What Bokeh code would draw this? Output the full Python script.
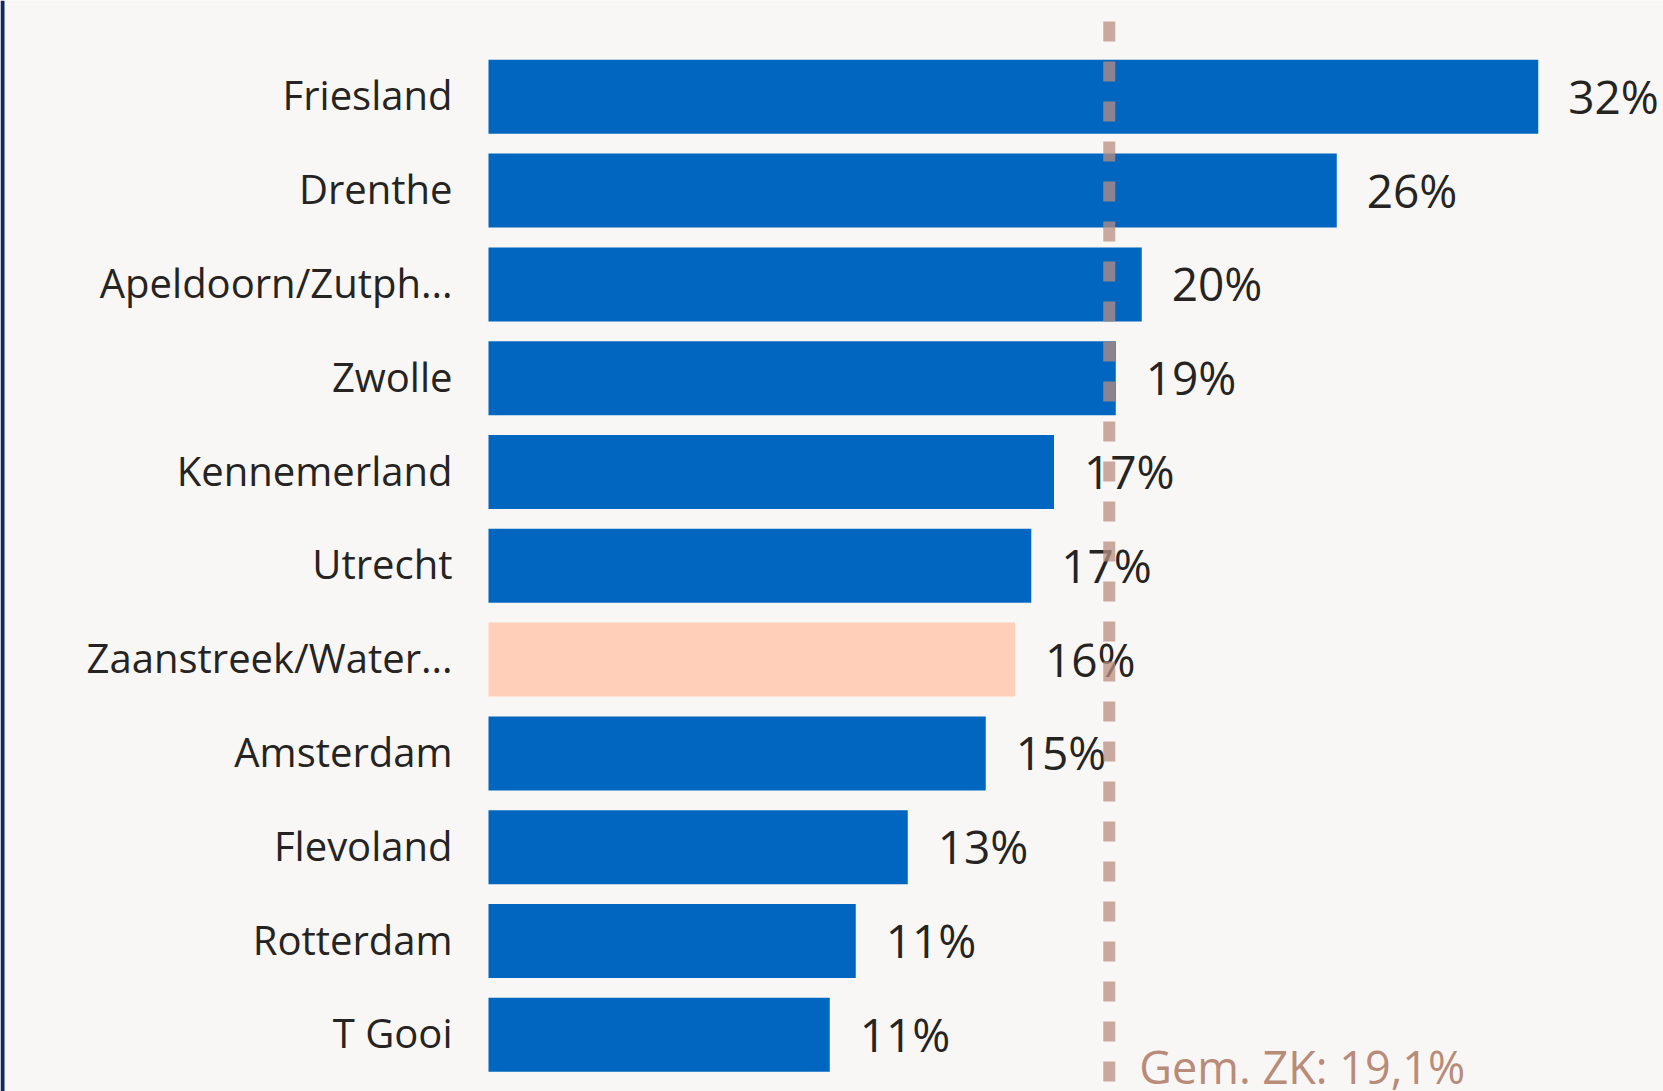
from bokeh.plotting import figure
from bokeh.models import Range1d, ColumnDataSource
from bokeh.core.properties import value
from bokeh.embed import file_html
from bokeh.resources import INLINE

# ---- data ----
categories = ["Friesland", "Drenthe", "Apeldoorn/Zutph...", "Zwolle", "Kennemerland",
              "Utrecht", "Zaanstreek/Water...", "Amsterdam", "Flevoland", "Rotterdam", "T Gooi"]
values = [32.3, 26.1, 20.1, 19.3, 17.4, 16.7, 16.2, 15.3, 12.9, 11.3, 10.5]
value_labels = ["32%", "26%", "20%", "19%", "17%", "17%", "16%", "15%", "13%", "11%", "11%"]
highlight = "Zaanstreek/Water..."
average = 19.1
average_label = "Gem. ZK: 19,1%"

# ---- styling ----
BG = "#f8f7f5"
BLUE = "#0066bf"
PEACH = "#ffcfba"
NAVY = "#0b2b5c"
TEXT = "#252423"
AVG = "#b98f80"
AVG_TEXT = "#b98b79"
FONT = value("Open Sans")

W, H = 1663, 1091
PX_X = 32.5      # pixels per percent
PX_ROW = 93.8    # pixels per category row
n = len(categories)

x_start = -488 / PX_X
x_end = x_start + W / PX_X
y_end = (n - 1) + 96.3 / PX_ROW
y_start = y_end - H / PX_ROW

pos = [n - 1 - i for i in range(n)]
colors = [PEACH if c == highlight else BLUE for c in categories]
src = ColumnDataSource(dict(cat=categories, value=values, label=value_labels,
                            pos=pos, color=colors))

p = figure(width=W, height=H, x_range=Range1d(x_start, x_end), y_range=Range1d(y_start, y_end),
           output_backend="svg", toolbar_location=None, min_border=0,
           x_axis_location=None, y_axis_location=None,
           background_fill_color=BG, border_fill_color=BG, outline_line_color=None)
p.grid.visible = False

# navy strip at left edge
p.quad(left=x_start, right=x_start + 4 / PX_X, bottom=y_start, top=y_end,
       fill_color=NAVY, line_color=None)

# bars
p.hbar(y="pos", left=0, right="value", height=74 / PX_ROW, fill_color="color",
       line_color=None, source=src)

# category labels
p.text(x=0, y="pos", text="cat", x_offset=-36, y_offset=-2, text_align="right",
       text_baseline="middle", text_font=FONT, text_font_size="40px", text_color=TEXT,
       source=src)

# value labels
p.text(x="value", y="pos", text="label", x_offset=30, y_offset=-1, text_align="left",
       text_baseline="middle", text_font=FONT, text_font_size="46px", text_color=TEXT,
       source=src)

# average line
p.segment(x0=[average], x1=[average], y0=[y_end - 21 / PX_ROW], y1=[y_end - 1082 / PX_ROW],
          line_color=AVG, line_alpha=0.75, line_width=12, line_dash="20 20", line_cap="butt")

p.text(x=[average], y=[y_end - 1066 / PX_ROW], text=[average_label], x_offset=30,
       text_align="left", text_baseline="alphabetic", text_font=FONT, text_font_size="45px",
       text_color=AVG_TEXT)

open("out.html", "w").write(file_html(p, INLINE))
